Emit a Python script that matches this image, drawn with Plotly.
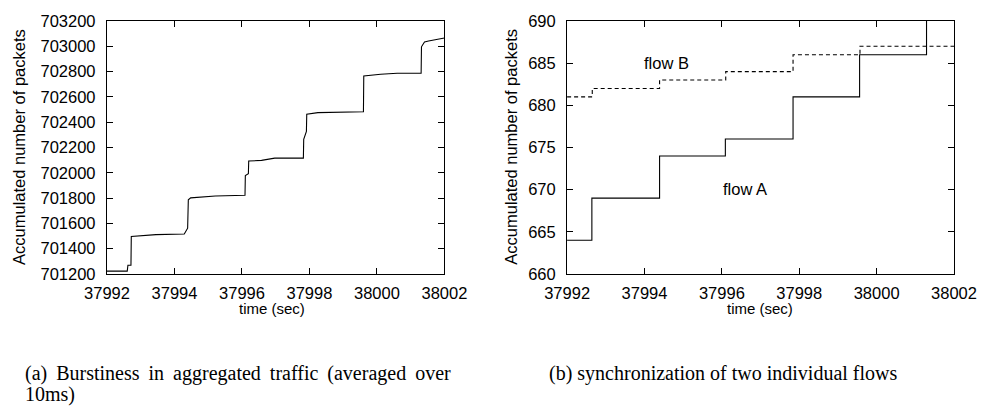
import plotly.graph_objects as go
from plotly.subplots import make_subplots

# (a) aggregated traffic
time_a = [37992.00, 37992.60, 37992.62, 37992.71, 37992.72, 37993.06, 37993.45, 37994.29,
          37994.39, 37994.41, 37994.48, 37995.21, 37996.09, 37996.10, 37996.19, 37996.20,
          37996.58, 37996.97, 37997.82, 37997.83, 37997.91, 37997.92, 37998.25, 37999.60,
          37999.61, 38000.11, 38000.60, 38001.31, 38001.32, 38001.41, 38001.53, 38002.00]
packets_a = [701223, 701223, 701269, 701269, 701496, 701503, 701511, 701516,
             701562, 701787, 701802, 701817, 701822, 701978, 701993, 702093,
             702098, 702116, 702116, 702264, 702327, 702463, 702476, 702483,
             702766, 702779, 702787, 702787, 702996, 703034, 703042, 703065]

# (b) two individual flows (step functions)
time_flow_a = [37992.00, 37992.64, 37994.39, 37996.09, 37997.84, 37999.56, 38001.29, 38002.00]
packets_flow_a = [664, 669, 674, 676, 681, 686, 691, 691]
time_flow_b = [37992.00, 37992.65, 37994.39, 37996.10, 37997.84, 37999.57, 38002.00]
packets_flow_b = [681, 682, 683, 684, 686, 687, 687]

x_ticks = [37992, 37994, 37996, 37998, 38000, 38002]
y_ticks_a = list(range(701200, 703201, 200))
y_ticks_b = list(range(660, 691, 5))

W, H = 989, 415
L, R, T, B = 107, 26, 13, 141
pw = W - L - R
ph = H - T - B

def px(xpix):
    return (xpix - L) / pw

def py(ypix):
    return (H - B - ypix) / ph

fig = make_subplots(rows=1, cols=2)
fig.add_trace(go.Scatter(x=time_a, y=packets_a, mode="lines",
                         line=dict(color="black", width=1.1), showlegend=False), 1, 1)
fig.add_trace(go.Scatter(x=time_flow_b, y=packets_flow_b, mode="lines", line_shape="hv",
                         line=dict(color="black", width=1.1, dash="4px,3px"), showlegend=False), 1, 2)
fig.add_trace(go.Scatter(x=time_flow_a, y=packets_flow_a, mode="lines", line_shape="hv",
                         line=dict(color="black", width=1.1), showlegend=False), 1, 2)

tickfont = dict(family="Liberation Sans, Arial, sans-serif", size=16.5, color="black")
axis_common = dict(showline=True, linecolor="black", linewidth=1.3, mirror="ticks",
                   ticks="inside", ticklen=6, tickwidth=1.2, tickcolor="black",
                   showgrid=False, zeroline=False, tickfont=tickfont, tickformat="d")

fig.update_xaxes(**axis_common, tickvals=x_ticks, range=[37992, 38002], ticklabelstandoff=4)
fig.update_yaxes(**axis_common, ticklabelstandoff=7)
fig.update_xaxes(domain=[0, px(448)], row=1, col=1)
fig.update_xaxes(domain=[px(572), 1], row=1, col=2)
fig.update_yaxes(tickvals=y_ticks_a, range=[701200, 703200], row=1, col=1)
fig.update_yaxes(tickvals=y_ticks_b, range=[660, 690], row=1, col=2)

titlefont = dict(family="Liberation Sans, Arial, sans-serif", size=16.5, color="black")
xtitlefont = dict(family="Liberation Sans, Arial, sans-serif", size=15, color="black")
capfont = dict(family="Liberation Serif, Times New Roman, serif", size=20, color="black")

ann = []
ann.append(dict(text="Accumulated number of packets", xref="paper", yref="paper",
                x=px(18), y=py(143), textangle=-90, showarrow=False, font=titlefont,
                xanchor="center", yanchor="middle"))
ann.append(dict(text="Accumulated number of packets", xref="paper", yref="paper",
                x=px(515), y=py(143), textangle=-90, showarrow=False, font=titlefont,
                xanchor="center", yanchor="middle"))
ann.append(dict(text="time (sec)", xref="paper", yref="paper", x=px(274), y=py(310),
                showarrow=False, font=xtitlefont, xanchor="center", yanchor="middle"))
ann.append(dict(text="time (sec)", xref="paper", yref="paper", x=px(767), y=py(310),
                showarrow=False, font=xtitlefont, xanchor="center", yanchor="middle"))
ann.append(dict(text="flow B", xref="x2", yref="y2", x=37994.58, y=685.07,
                showarrow=False, font=titlefont))
ann.append(dict(text="flow A", xref="x2", yref="y2", x=37996.59, y=670.03,
                showarrow=False, font=titlefont))
sp = "\u00a0\u2009"
cap_a = sp.join(["(a)", "Burstiness", "in", "aggregated", "traffic", "(averaged", "over"])
ann.append(dict(text=cap_a, xref="paper", yref="paper", x=px(22), y=py(377),
                showarrow=False, font=capfont, xanchor="left", yanchor="middle"))
ann.append(dict(text="10ms)", xref="paper", yref="paper", x=px(22), y=py(398),
                showarrow=False, font=capfont, xanchor="left", yanchor="middle"))
ann.append(dict(text="(b) synchronization of two individual flows", xref="paper", yref="paper",
                x=px(552), y=py(377), showarrow=False, font=capfont,
                xanchor="left", yanchor="middle"))

fig.update_layout(width=W, height=H, margin=dict(l=L, r=R, t=T, b=B),
                  plot_bgcolor="white", paper_bgcolor="white", annotations=ann,
                  showlegend=False)

fig.write_html("out.html")
